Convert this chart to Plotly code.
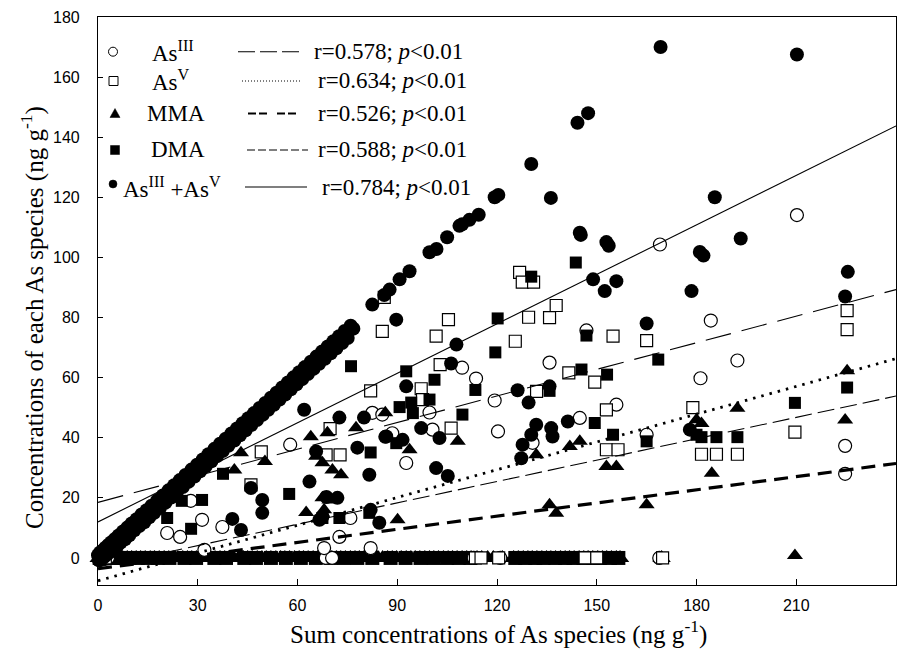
import plotly.graph_objects as go

# ---------------- data ----------------
# samples whose value was 0 (the dense row at y = 0)
as3_zero_x = [0.4, 1.6, 3.0, 68.5, 70.4, 113.0, 121.0, 168.8]
as5_zero_x = [0.8, 2.2, 113.5, 115.2, 120.5, 146.5, 150.0, 169.8]
mma_zero_x = [0.2, 1.3, 2.5, 3.6, 4.9, 6.1, 7.4, 8.8, 10.1, 11.5, 12.8, 14.2, 15.7, 17.0, 18.4,
              19.9, 21.3, 22.6, 24.0, 25.5, 26.9, 28.2, 29.6, 31.1, 32.5, 33.8, 35.2, 36.7,
              38.1, 39.4, 40.8, 42.3, 43.7, 45.0, 46.4, 47.9, 49.3, 50.6, 52.0, 53.5, 54.9,
              56.2, 57.6, 59.1, 60.5, 61.8, 63.2, 64.7, 66.1, 67.4, 68.8, 70.3, 71.7, 73.0,
              74.4, 75.9, 77.3, 78.6, 80.0, 81.5, 82.9, 84.2, 85.6, 87.1, 88.5, 89.8, 91.2,
              92.7, 94.1, 95.4, 96.8, 98.3, 99.7, 101.0, 102.4, 103.9, 105.3, 106.6, 108.0,
              109.5, 110.9, 112.2, 114.0, 115.4, 117.2, 118.9, 121.6, 125.0, 126.4, 127.9,
              129.3, 130.6, 132.0, 133.5, 134.9, 136.2, 137.6, 139.1, 140.5, 141.8, 143.2,
              144.7, 146.1, 147.4, 148.8, 150.3, 151.7, 153.0, 154.4, 155.9, 157.0, 169.5]
dma_zero_x = [0.5, 3.0, 5.5, 7.0, 9.5, 12.0, 15.0, 18.0, 21.5, 26.0, 29.5, 35.0, 38.5, 44.0,
              47.5, 52.0, 56.5, 61.0, 65.5, 70.0, 74.0, 78.0, 82.5, 88.0, 92.5, 97.0, 101.0,
              105.0, 108.5, 112.0, 125.5, 128.5, 131.5, 134.0, 137.5, 140.5, 143.0, 146.0,
              149.0, 151.0, 154.0, 156.5]

# As(III) : (sum of As species, concentration)
as3_x = [20.8, 24.7, 27.9, 31.3, 32.0, 37.4, 57.8, 68.0, 72.6, 75.9, 82.0, 82.5, 85.5, 88.5,
         92.7, 99.7, 100.6, 109.5, 113.7, 119.3, 120.3, 130.7, 135.8, 144.9, 146.9, 155.9,
         165.0, 169.0, 181.2, 184.3, 192.3, 210.2, 224.7, 224.7]
as3_y = [8.3, 7.0, 19.0, 12.7, 2.7, 10.3, 37.7, 3.3, 7.0, 13.3, 3.3, 48.3, 47.7, 41.5,
         31.6, 48.4, 42.7, 63.3, 59.7, 52.4, 42.1, 38.3, 65.0, 46.6, 75.7, 51.0,
         41.0, 104.3, 59.8, 79.0, 65.7, 114.1, 37.3, 28.0]

# As(V)
as5_x = [46.0, 49.1, 68.6, 69.8, 72.8, 82.0, 85.5, 86.1, 97.2, 97.6, 101.7, 102.9, 105.4,
         106.2, 125.5, 126.8, 127.6, 131.0, 129.5, 131.9, 135.8, 137.8, 141.6, 149.4, 152.9,
         152.9, 154.9, 156.4, 165.0, 178.9, 181.5, 186.0, 192.3, 209.6, 225.3, 225.3]
as5_y = [24.3, 35.3, 34.3, 43.0, 34.3, 55.6, 75.4, 86.7, 56.3, 52.7, 73.8, 64.3, 79.3,
         43.2, 72.1, 95.0, 91.8, 91.8, 80.1, 55.4, 80.0, 84.0, 61.6, 58.5, 49.3,
         36.0, 73.8, 36.0, 72.3, 50.0, 34.5, 34.5, 34.5, 41.9, 82.3, 76.0]

# MMA
mma_x = [41.0, 43.0, 50.2, 62.6, 64.0, 65.6, 67.5, 67.5, 68.0, 69.0, 69.6, 70.5, 73.1, 77.6,
         86.4, 90.1, 93.7, 108.2, 131.8, 135.8, 137.8, 141.9, 144.9, 152.9, 155.9, 165.0,
         180.0, 181.5, 184.6, 192.3, 209.6, 224.7, 225.3]
mma_y = [29.3, 35.0, 32.1, 15.1, 40.3, 33.8, 31.7, 20.0, 16.0, 41.7, 19.3, 29.3, 27.7, 43.3,
         48.3, 12.7, 36.0, 38.8, 34.3, 17.7, 14.9, 37.1, 38.8, 30.4, 30.4, 17.7,
         46.0, 44.7, 28.2, 49.8, 0.8, 45.9, 62.3]

# DMA
dma_x = [20.4, 20.8, 25.2, 28.0, 31.3, 37.6, 57.5, 67.5, 72.6, 76.1, 81.6, 82.0, 89.7, 90.7,
         92.7, 94.2, 94.7, 99.7, 101.2, 109.6, 113.5, 119.5, 120.2, 130.3, 135.8, 143.7,
         145.4, 146.9, 149.4, 153.1, 154.9, 165.0, 168.5, 180.0, 181.5, 186.0, 192.3, 209.6,
         225.3]
dma_y = [20.3, 13.3, 19.0, 9.7, 19.3, 28.0, 21.3, 13.3, 13.3, 63.8, 15.0, 35.1, 38.2, 50.2,
         62.1, 51.7, 48.2, 52.7, 59.3, 47.7, 55.9, 68.4, 79.7, 93.6, 55.6, 98.3,
         62.7, 74.0, 44.9, 61.0, 41.0, 38.8, 66.0, 41.0, 40.2, 40.2, 40.2, 51.6,
         56.7]

# As(III) + As(V)
sum_x = [0.0, 0.3, 0.6, 1.0, 1.4, 1.8, 2.2, 2.7, 3.1, 3.6, 4.0, 4.6, 5.1, 5.7, 6.2, 6.8,
         7.5, 8.1, 8.8, 9.4, 10.1, 10.9, 11.6, 12.4, 13.1, 13.9, 14.6, 15.4, 16.1, 16.9,
         17.8, 18.6, 19.5, 20.3, 21.2, 22.0, 22.9, 23.7, 24.6, 25.5, 26.3, 27.2, 28.1, 29.0,
         29.8, 30.7, 31.5, 32.4, 33.2, 34.1, 35.0, 35.8, 36.7, 37.5, 38.4, 39.2, 40.1, 41.0,
         41.8, 42.7, 43.5, 44.4, 45.2, 46.1, 46.9, 47.8, 48.6, 49.5, 50.3, 51.2, 52.0, 52.9,
         53.7, 54.6, 55.4, 56.3, 57.1, 58.0, 58.8, 59.7, 60.5, 61.4, 62.2, 63.1, 64.0, 64.8,
         65.7, 66.5, 67.4, 68.2, 69.1, 70.0, 70.8, 71.7, 72.5, 73.4, 74.2, 75.1, 76.0, 76.8,
         82.5, 86.1, 87.7, 90.7, 93.7, 99.7, 101.8, 105.0, 108.7, 109.5, 111.7, 114.5, 119.3,
         120.4, 130.3, 144.2, 147.4, 169.2, 210.2, 136.2, 185.5, 145.2, 153.6, 182.1, 193.3,
         225.5, 224.7, 144.9, 152.9, 181.0, 148.9, 152.4, 155.9, 178.5, 165.0,
         62.0, 72.6, 80.0, 86.4, 65.6, 78.0, 81.6, 63.6, 46.0, 49.4, 49.4, 40.4, 43.0, 72.0,
         68.7, 67.5, 66.6, 82.0, 84.6, 89.7, 107.8, 106.2, 126.2, 129.5, 135.8, 92.7,
         131.8, 130.3, 127.7, 127.3, 136.3, 136.7, 141.3, 101.7, 105.2, 86.7, 91.6, 97.2,
         102.7, 178.0]
sum_y = [0.9, -0.8, 1.8, -0.4, 2.5, 0.3, 3.4, 1.1, 4.3, 2.0, 5.2, 2.9, 6.3, 3.9, 7.5, 5.1,
         8.8, 6.2, 10.1, 7.5, 11.5, 9.2, 12.9, 10.6, 14.5, 11.9, 15.9, 13.5, 17.4, 15.0,
         19.1, 16.6, 20.8, 18.4, 22.5, 20.1, 24.2, 21.8, 25.9, 23.6, 27.6, 25.3, 29.4, 27.1,
         31.0, 28.8, 32.8, 30.5, 34.5, 32.2, 36.3, 33.9, 38.0, 35.6, 39.7, 37.3, 41.4, 39.1,
         43.1, 40.8, 44.8, 42.5, 46.5, 44.2, 48.2, 45.9, 49.9, 47.6, 51.6, 49.3, 53.3, 51.0,
         55.0, 52.7, 56.7, 54.4, 58.4, 56.1, 60.1, 57.8, 61.8, 59.5, 63.5, 61.2, 65.3, 62.9,
         67.0, 64.6, 68.7, 66.3, 70.4, 68.1, 72.1, 69.8, 73.8, 71.5, 75.5, 73.2, 77.3, 76.3,
         84.3, 87.5, 89.3, 92.7, 95.4, 101.7, 102.8, 106.7, 110.5, 111.0, 112.5, 114.2, 120.0,
         120.8, 131.1, 144.8, 148.0, 170.0, 167.5, 119.8, 120.0, 107.5, 103.9, 100.6, 106.3,
         95.2, 87.0, 108.2, 105.1, 101.8, 92.7, 88.8, 92.1, 88.8, 78.0,
         49.3, 46.7, 46.7, 40.3, 35.4, 36.7, 27.7, 25.4, 23.3, 19.3, 15.0, 13.0, 9.3, 20.0,
         20.3, 13.7, 12.7, 16.0, 11.7, 79.3, 71.0, 64.7, 55.8, 51.7, 57.1, 57.1,
         44.3, 41.0, 37.7, 33.2, 43.2, 40.4, 45.4, 29.9, 27.3, 40.4, 39.3, 43.2,
         39.9, 42.7]

# regression lines: y = intercept + slope * x
fit_names = ["AsIII", "AsV", "MMA", "DMA", "AsIII+AsV"]
fit_intercept = [18.5, -7.6, -3.6, -3.0, 12.0]
fit_slope = [0.295, 0.308, 0.146, 0.237, 0.549]
fit_r = ["0.578", "0.634", "0.526", "0.588", "0.784"]
fit_x = [0, 240]

x_ticks = [0, 30, 60, 90, 120, 150, 180, 210, 240]
y_ticks = [0, 20, 40, 60, 80, 100, 120, 140, 160, 180]

# ---------------- figure ----------------
W, H = 905, 650
ML, MR, MT, MB = 98, 9, 17, 65
PW, PH = W - ML - MR, H - MT - MB


def px(xp):
    return (xp - ML) / PW


def py(yp):
    return (H - MB - yp) / PH


fig = go.Figure()

open_line = dict(color="black", width=1.2)
solid_line = dict(color="black", width=0)

# the dense row of zero values (drawn first, bigger so the band is solid)
fig.add_trace(go.Scatter(x=mma_zero_x, y=[0] * len(mma_zero_x), mode="markers",
                         cliponaxis=False,
                         marker=dict(symbol="triangle-up", size=16, color="black", line=solid_line)))
fig.add_trace(go.Scatter(x=dma_zero_x, y=[0] * len(dma_zero_x), mode="markers",
                         cliponaxis=False,
                         marker=dict(symbol="square", size=14, color="black", line=solid_line)))
fig.add_trace(go.Scatter(x=as3_zero_x, y=[0] * len(as3_zero_x), mode="markers",
                         cliponaxis=False,
                         marker=dict(symbol="circle", size=13, color="white", line=open_line)))
fig.add_trace(go.Scatter(x=as5_zero_x, y=[0] * len(as5_zero_x), mode="markers",
                         cliponaxis=False,
                         marker=dict(symbol="square", size=12, color="white", line=open_line)))

fig.add_trace(go.Scatter(x=as3_x, y=as3_y, mode="markers", cliponaxis=False,
                         marker=dict(symbol="circle", size=13, color="white", line=open_line)))
fig.add_trace(go.Scatter(x=as5_x, y=as5_y, mode="markers", cliponaxis=False,
                         marker=dict(symbol="square", size=12, color="white", line=open_line)))
fig.add_trace(go.Scatter(x=mma_x, y=mma_y, mode="markers", cliponaxis=False,
                         marker=dict(symbol="triangle-up", size=14, color="black", line=solid_line)))
fig.add_trace(go.Scatter(x=dma_x, y=dma_y, mode="markers", cliponaxis=False,
                         marker=dict(symbol="square", size=12, color="black", line=solid_line)))
fig.add_trace(go.Scatter(x=sum_x, y=sum_y, mode="markers", cliponaxis=False,
                         marker=dict(symbol="circle", size=14, color="black", line=solid_line)))

line_styles = [
    dict(color="black", width=1.1, dash="26px,11px"),
    dict(color="black", width=2.8, dash="2.5px,6px"),
    dict(color="black", width=3.2, dash="14px,8px"),
    dict(color="black", width=1.1, dash="17px,6px"),
    dict(color="black", width=1.1),
]
for b, m, st in zip(fit_intercept, fit_slope, line_styles):
    fig.add_trace(go.Scatter(x=fit_x, y=[b + m * xv for xv in fit_x], mode="lines",
                             line=st, hoverinfo="skip"))

# ---------------- legend drawn by hand ----------------
rows = [51.7, 81.0, 113.5, 150.0, 187.0]
legend_line_styles = [
    dict(color="black", width=1.1, dash="17px,5px"),
    dict(color="black", width=1.0, dash="1px,2px"),
    dict(color="black", width=2.2, dash="8px,3px,8px,10px"),
    dict(color="black", width=1.1, dash="8px,3px"),
    dict(color="black", width=1.1),
]
seg = [(238, 302), (242, 302), (248, 302), (247, 308), (245, 307)]
shapes = []
for (x0, x1), yy, st in zip(seg, rows, legend_line_styles):
    shapes.append(dict(type="line", xref="paper", yref="paper", x0=px(x0), x1=px(x1),
                       y0=py(yy), y1=py(yy), line=st))

mk = [(113, rows[0]), (113.5, rows[1]), (115, rows[2]), (115, rows[3]), (113, rows[4] - 3)]
common = dict(xref="paper", yref="paper", xsizemode="pixel", ysizemode="pixel")
shapes.append(dict(type="circle", xanchor=px(mk[0][0]), yanchor=py(mk[0][1]),
                   x0=-4.5, x1=4.5, y0=-4.5, y1=4.5, line=dict(color="black", width=1),
                   fillcolor="white", **common))
shapes.append(dict(type="rect", xanchor=px(mk[1][0]), yanchor=py(mk[1][1]),
                   x0=-4.5, x1=4.5, y0=-4.5, y1=4.5, line=dict(color="black", width=1),
                   fillcolor="white", **common))
shapes.append(dict(type="path", xanchor=px(mk[2][0]), yanchor=py(mk[2][1]),
                   path="M -5,-4 L 5,-4 L 0,5 Z", line=dict(color="black", width=0.5),
                   fillcolor="black", **common))
shapes.append(dict(type="rect", xanchor=px(mk[3][0]), yanchor=py(mk[3][1]),
                   x0=-4.5, x1=4.5, y0=-4.5, y1=4.5, line=dict(color="black", width=0.5),
                   fillcolor="black", **common))
shapes.append(dict(type="circle", xanchor=px(mk[4][0]), yanchor=py(mk[4][1]),
                   x0=-4, x1=4, y0=-4, y1=4, line=dict(color="black", width=0.5),
                   fillcolor="black", **common))

serif = "Liberation Serif, Times New Roman, serif"
labels = ["As<sup>III</sup>", "As<sup>V</sup>", "MMA", "DMA", "As<sup>III</sup> +As<sup>V</sup>"]
label_x = [150, 150, 145, 149, 121]
r_x = [312, 316, 316, 316, 320]
ann = []
for lab, lx, rx, yy, r in zip(labels, label_x, r_x, rows, fit_r):
    ann.append(dict(text=lab, x=px(lx), y=py(yy), xref="paper", yref="paper",
                    xanchor="left", yanchor="middle", showarrow=False,
                    font=dict(family=serif, size=23, color="black")))
    ann.append(dict(text="r=" + r + "; <i>p</i>&lt;0.01", x=px(rx), y=py(yy),
                    xref="paper", yref="paper", xanchor="left", yanchor="middle",
                    showarrow=False, font=dict(family=serif, size=23, color="black")))

# axis titles
ann.append(dict(text="Sum concentrations of As species (ng g<sup>-1</sup>)",
                x=px(498), y=py(632), xref="paper", yref="paper", xanchor="center",
                yanchor="middle", showarrow=False,
                font=dict(family=serif, size=25, color="black")))
ann.append(dict(text="Concentrations of each As species (ng g<sup>-1</sup>)",
                x=px(32), y=py(318), xref="paper", yref="paper", xanchor="center",
                yanchor="middle", showarrow=False, textangle=-90,
                font=dict(family=serif, size=25, color="black")))

tickfont = dict(family="Liberation Sans, Arial, sans-serif", size=16, color="black")
fig.update_layout(
    width=W, height=H, margin=dict(l=ML, r=MR, t=MT, b=MB),
    paper_bgcolor="white", plot_bgcolor="white", showlegend=False,
    shapes=shapes, annotations=ann,
    xaxis=dict(range=[0, 240], tickvals=x_ticks, ticks="inside", ticklen=6, tickwidth=1,
               tickcolor="black", showline=True, linecolor="black", linewidth=1.2,
               mirror=True, showgrid=False, zeroline=False, tickfont=tickfont,
               ticklabelstandoff=6),
    yaxis=dict(range=[-9, 180], tickvals=y_ticks, ticks="inside", ticklen=5, tickwidth=1,
               tickcolor="black", showline=True, linecolor="black", linewidth=1.2,
               mirror=True, showgrid=False, zeroline=False, tickfont=tickfont,
               ticklabelstandoff=14),
)

fig.write_html("out.html", config={"displayModeBar": False},
               post_script="document.body.style.margin='0px';document.body.style.overflow='hidden';")
